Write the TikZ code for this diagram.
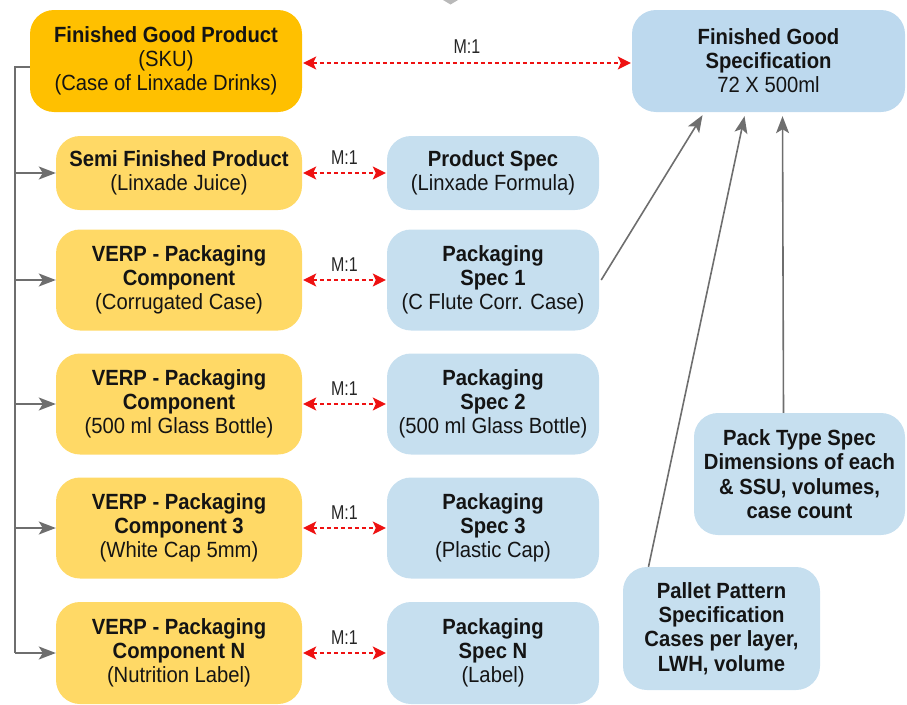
\documentclass[tikz,border=0pt]{standalone}
\usepackage{fontspec}
\setmainfont{Liberation Sans}[FakeStretch=0.92]
\newfontfamily\narrowfont{Liberation Sans}[FakeStretch=0.8]
\usetikzlibrary{arrows.meta}
\usetikzlibrary{calc}
\definecolor{skuorange}{HTML}{FFC000}
\definecolor{partyellow}{HTML}{FFD966}
\definecolor{specblue}{HTML}{C6DFEF}
\definecolor{fgblue}{HTML}{BDD9EE}
\definecolor{linkred}{HTML}{EE1111}
\definecolor{treegrey}{HTML}{6E6E6E}
\tikzset{
	box/.style={rounded corners=24pt, align=center, inner sep=0pt, text=black!92,
		font=\fontsize{22}{24}\selectfont},
	sku/.style={box, fill=skuorange, minimum width=272pt, minimum height=102pt},
	part/.style={box, fill=partyellow, minimum width=246pt},
	spec/.style={box, fill=specblue, minimum width=212pt},
	mlink/.style={linkred, line width=1.3pt, dash pattern=on 4pt off 3pt,
		{Stealth[length=13pt,width=13pt,inset=3pt]}-{Stealth[length=13pt,width=13pt,inset=3pt]}},
	tree/.style={treegrey, line width=1.3pt},
	feed/.style={treegrey, line width=1.6pt, -{Stealth[length=17pt,width=13pt,inset=4pt]}}
}
\newcommand{\mone}[3] % left node, right node, label lift in pt
{
	% dashed many-to-one link
	\draw[mlink, shorten <=1pt, shorten >=1pt] (#1.east) -- node[above=#3pt, text=black!85, inner sep=0pt]
		{\narrowfont\fontsize{20}{22}\selectfont M:1} (#2.west);
}

\begin{document}
\begin{tikzpicture}[x=1pt, y=-1pt]
	% page: 907 x 704, y down
	\useasboundingbox (0, 0) rectangle (907, 704);
	\fill[gray!55] (443, 0) -- (458, 0) -- (450.5, 4.5) -- cycle;

	% left column
	\node[sku] (fg) at (166, 61) {\textbf{Finished Good Product}\\(SKU)\\(Case of Linxade Drinks)};
	\node[part, minimum height=74pt] (semi) at (179, 173) {\textbf{Semi Finished Product}\\(Linxade Juice)};
	\node[part, minimum height=101pt] (comp1) at (179, 280) {\textbf{VERP - Packaging}\\\textbf{Component}\\(Corrugated Case)};
	\node[part, minimum height=101pt] (comp2) at (179, 404) {\textbf{VERP - Packaging}\\\textbf{Component}\\(500 ml Glass Bottle)};
	\node[part, minimum height=101pt] (comp3) at (179, 528) {\textbf{VERP - Packaging}\\\textbf{Component 3}\\(White Cap 5mm)};
	\node[part, minimum height=102pt] (compN) at (179, 653) {\textbf{VERP - Packaging}\\\textbf{Component N}\\(Nutrition Label)};

	% middle column
	\node[spec, minimum height=74pt] (pspec) at (493, 173) {\textbf{Product Spec}\\(Linxade Formula)};
	\node[spec, minimum height=101pt] (pack1) at (493, 280) {\textbf{Packaging}\\\textbf{Spec 1}\\(C Flute Corr. Case)};
	\node[spec, minimum height=101pt] (pack2) at (493, 404) {\textbf{Packaging}\\\textbf{Spec 2}\\(500 ml Glass Bottle)};
	\node[spec, minimum height=101pt] (pack3) at (493, 528) {\textbf{Packaging}\\\textbf{Spec 3}\\(Plastic Cap)};
	\node[spec, minimum height=102pt] (packN) at (493, 653) {\textbf{Packaging}\\\textbf{Spec N}\\(Label)};

	% right column
	\node[box, fill=fgblue, minimum width=273pt, minimum height=102pt] (fgspec) at (768.5, 61)
		{\textbf{Finished Good}\\\textbf{Specification}\\72 X 500ml};
	\node[box, fill=specblue, minimum width=211pt, minimum height=122pt, font=\bfseries\fontsize{22}{24.3}\selectfont] (packtype) at (799.5, 474)
		{Pack Type Spec\\Dimensions of each\\\& SSU, volumes,\\case count};
	\node[box, fill=specblue, minimum width=197pt, minimum height=123pt, font=\bfseries\fontsize{22}{24.3}\selectfont] (pallet) at (721.5, 628.5)
		{Pallet Pattern\\Specification\\Cases per layer,\\LWH, volume};

	% bill of materials tree
	\coordinate (trunk) at (15, 67);
	\draw[tree] (trunk -| fg.west) -- (trunk) -- (trunk |- compN.west);
	\draw[feed] (trunk |- semi.west) -- (semi.west);
	\draw[feed] (trunk |- comp1.west) -- (comp1.west);
	\draw[feed] (trunk |- comp2.west) -- (comp2.west);
	\draw[feed] (trunk |- comp3.west) -- (comp3.west);
	\draw[feed] (trunk |- compN.west) -- (compN.west);

	% many-to-one links
	\coordinate (fglink) at ([yshift=-2pt]fg.east);
	\draw[mlink, shorten <=1pt, shorten >=1pt] (fglink) -- node[above=9pt, text=black!85, inner sep=0pt]
		{\narrowfont\fontsize{20}{22}\selectfont M:1} (fglink -| fgspec.west);
	\mone{semi}{pspec}{8};
	\mone{comp1}{pack1}{8};
	\mone{comp2}{pack2}{8};
	\mone{comp3}{pack3}{8};
	\mone{compN}{packN}{8};

	% specs feeding the finished good spec
	\draw[feed] ([xshift=2pt]pack1.east) -- ([xshift=-66pt, yshift=-3pt]fgspec.south);
	\draw[feed] ([xshift=-73pt]pallet.north) -- ([xshift=-24pt, yshift=-4pt]fgspec.south);
	\draw[feed] ([xshift=-16pt]packtype.north) -- ([xshift=14pt, yshift=-4pt]fgspec.south);
\end{tikzpicture}
\end{document}
